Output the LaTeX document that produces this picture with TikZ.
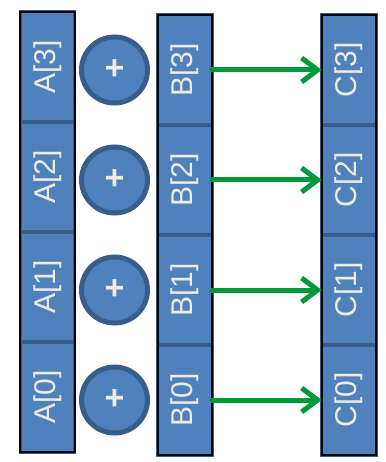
\documentclass[tikz,border=0pt]{standalone}
\usepackage{fontspec}
\setmainfont{Liberation Sans}
\usetikzlibrary{positioning,calc,arrows.meta}
\definecolor{cellblue}{HTML}{4F81BD}
\definecolor{celledge}{HTML}{385D8A}
\definecolor{cream}{HTML}{EEECE1}
\definecolor{arrowgreen}{HTML}{00993A}
\tikzstyle{cell}=[rectangle,fill=cellblue,minimum width=54pt,minimum height=110pt,inner sep=0pt,text=cream,font=\fontsize{30}{32}\selectfont]
\tikzstyle{celledge}=[draw=celledge,line width=3pt]
\tikzstyle{adder}=[circle,draw=celledge,fill=cellblue,line width=5pt,minimum size=66pt,inner sep=0pt,text=cream,font=\fontsize{34}{36}\selectfont\bfseries]
\tikzstyle{flow}=[arrowgreen,line width=5pt,-{Straight Barb[length=16pt,width=24pt,line width=5pt]},line cap=round]

\begin{document}
\begin{tikzpicture}[x=1pt,y=-1pt]
  \useasboundingbox (0,0) rectangle (385,462);

  \foreach \i in {0,...,3} {
    \node [cell] at (47.5, 67 + 110*3 - 110*\i) (A\i) {\rotatebox{90}{A[\i]}};
    \node [cell] at (185,  70 + 110*3 - 110*\i) (B\i) {\rotatebox{90}{B[\i]}};
    \node [cell] at (349,  70 + 110*3 - 110*\i) (C\i) {\rotatebox{90}{C[\i]}};
    \node [adder] at (114.5, 70 + 110*3 - 110*\i) (P\i) {+};
  }

  % cell borders, drawn after all fills
  \foreach \i in {0,...,3} {
    \draw [celledge] (A\i.south west) rectangle (A\i.north east);
    \draw [celledge] (B\i.south west) rectangle (B\i.north east);
    \draw [celledge] (C\i.south west) rectangle (C\i.north east);
  }

  % outer frames of the arrays
  \draw [line width=2pt] (A0.south west) rectangle (A3.north east);
  \draw [line width=2pt] (B0.south west) rectangle (B3.north east);
  \draw [line width=2pt] (C0.south west) rectangle (C3.north east);

  \foreach \i in {0,...,3}
    \draw [flow] (B\i.east) to (C\i.west);
\end{tikzpicture}
\end{document}
